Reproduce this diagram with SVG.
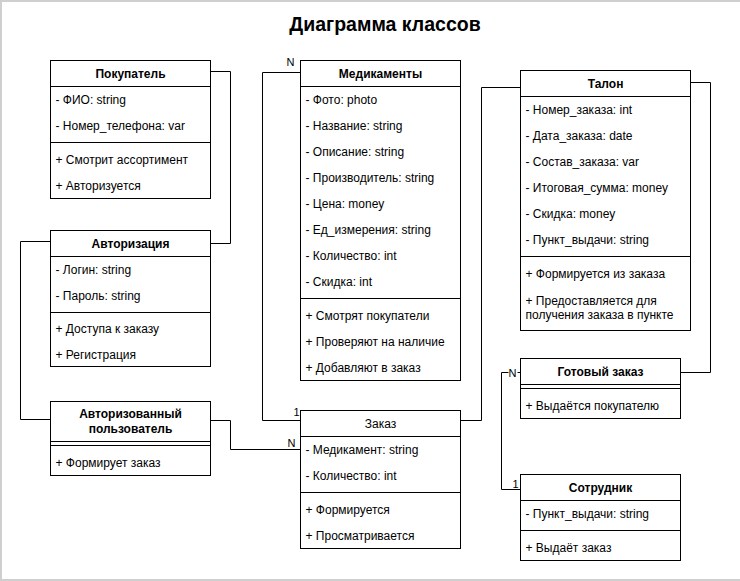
<svg xmlns="http://www.w3.org/2000/svg" width="740" height="581" viewBox="0 0 740 581">
<style>
text{font-family:"Liberation Sans",Arial,sans-serif;font-size:12px;fill:#000}
.h{font-weight:bold;text-anchor:middle}
.hn{text-anchor:middle}
.t{font-size:19.5px;font-weight:bold;text-anchor:middle}
.m{font-size:11px}
.box{fill:#fff;stroke:#000;stroke-width:1}
.ln{stroke:#000;stroke-width:1;fill:none}
.frame{stroke:#cfcfcf;stroke-width:2;fill:none}
</style>
<rect width="740" height="581" fill="#fff"/>
<path class="frame" d="M1,581 V1 H740 M0,580 H740"/>
<text class="t" x="385" y="31">Диаграмма классов</text>
<g transform="translate(0.5,0.5)">
<g id="connectors">
<path class="ln" d="M210,71 H230 V243 H210"/>
<path class="ln" d="M50,241 H20 V419 H50"/>
<path class="ln" d="M210,420 H230 V449 H300"/>
<path class="ln" d="M300,72 H262 V420 H300"/>
<path class="ln" d="M460,420 H481 V87 H520"/>
<path class="ln" d="M690,82 H710 V372 H680"/>
<path class="ln" d="M520,372 H501 V489 H520"/>
<rect x="508" y="366" width="9" height="11" fill="#fff"/>
<text class="m" x="286" y="65">N</text>
<text class="m" x="293" y="415">1</text>
<text class="m" x="287" y="446">N</text>
<text class="m" x="202" y="415">1</text>
<text class="m" x="508" y="376">N</text>
<text class="m" x="512" y="487">1</text>
</g>
<g id="pokupatel">
<rect class="box" x="50" y="60" width="160" height="138"/>
<path class="ln" d="M50,86 H210 M50,142 H210"/>
<text class="h" x="130" y="77">Покупатель</text>
<text x="55" y="103">- ФИО: string</text>
<text x="55" y="129">- Номер_телефона: var</text>
<text x="55" y="163">+ Смотрит ассортимент</text>
<text x="55" y="189">+ Авторизуется</text>
</g>
<g id="avtorizatsiya">
<rect class="box" x="50" y="230" width="160" height="136"/>
<path class="ln" d="M50,256 H210 M50,312 H210"/>
<text class="h" x="130" y="247">Авторизация</text>
<text x="55" y="273">- Логин: string</text>
<text x="55" y="299">- Пароль: string</text>
<text x="55" y="332">+ Доступа к заказу</text>
<text x="55" y="358">+ Регистрация</text>
</g>
<g id="avtorizovanny">
<rect class="box" x="50" y="401" width="160" height="74"/>
<path class="ln" d="M50,441 H210 M50,445 H210"/>
<text class="h" x="130" y="417">Авторизованный</text>
<text class="h" x="130" y="432">пользователь</text>
<text x="55" y="466">+ Формирует заказ</text>
</g>
<g id="medikamenty">
<rect class="box" x="300" y="60" width="160" height="320"/>
<path class="ln" d="M300,86 H460 M300,298 H460"/>
<text class="h" x="380" y="77">Медикаменты</text>
<text x="305" y="103">- Фото: photo</text>
<text x="305" y="129">- Название: string</text>
<text x="305" y="155">- Описание: string</text>
<text x="305" y="181">- Производитель: string</text>
<text x="305" y="207">- Цена: money</text>
<text x="305" y="233">- Ед_измерения: string</text>
<text x="305" y="259">- Количество: int</text>
<text x="305" y="285">- Скидка: int</text>
<text x="305" y="319">+ Смотрят покупатели</text>
<text x="305" y="345">+ Проверяют на наличие</text>
<text x="305" y="371">+ Добавляют в заказ</text>
</g>
<g id="zakaz">
<rect class="box" x="300" y="410" width="160" height="138"/>
<path class="ln" d="M300,436 H460 M300,492 H460"/>
<text class="hn" x="380" y="427">Заказ</text>
<text x="305" y="453">- Медикамент: string</text>
<text x="305" y="479">- Количество: int</text>
<text x="305" y="513">+ Формируется</text>
<text x="305" y="539">+ Просматривается</text>
</g>
<g id="talon">
<rect class="box" x="520" y="70" width="170" height="260"/>
<path class="ln" d="M520,96 H690 M520,256 H690"/>
<text class="h" x="605" y="87">Талон</text>
<text x="525" y="113">- Номер_заказа: int</text>
<text x="525" y="139">- Дата_заказа: date</text>
<text x="525" y="165">- Состав_заказа: var</text>
<text x="525" y="191">- Итоговая_сумма: money</text>
<text x="525" y="217">- Скидка: money</text>
<text x="525" y="243">- Пункт_выдачи: string</text>
<text x="525" y="277">+ Формируется из заказа</text>
<text x="525" y="304">+ Предоставляется для</text>
<text x="525" y="318">получения заказа в пункте</text>
</g>
<g id="gotovy">
<rect class="box" x="520" y="358" width="160" height="60"/>
<path class="ln" d="M520,384 H680 M520,388 H680"/>
<text class="h" x="600" y="375">Готовый заказ</text>
<text x="525" y="409">+ Выдаётся покупателю</text>
</g>
<g id="sotrudnik">
<rect class="box" x="520" y="474" width="160" height="86"/>
<path class="ln" d="M520,500 H680 M520,530 H680"/>
<text class="h" x="600" y="491">Сотрудник</text>
<text x="525" y="517">- Пункт_выдачи: string</text>
<text x="525" y="551">+ Выдаёт заказ</text>
</g>
</g>
</svg>
